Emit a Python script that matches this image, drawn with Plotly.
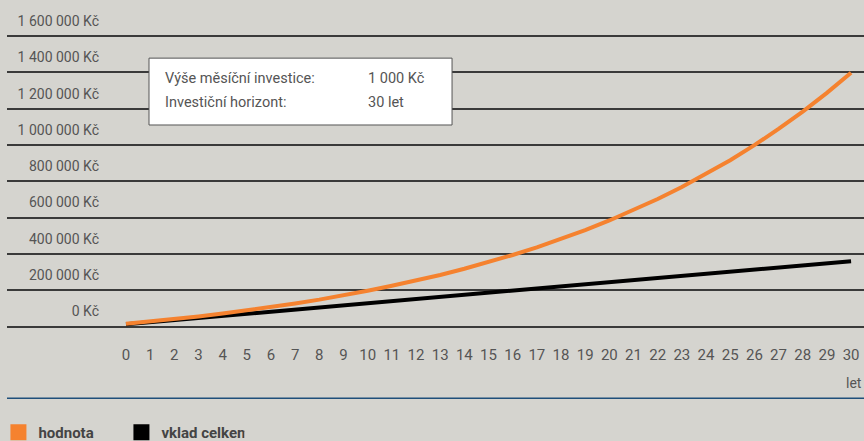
import plotly.graph_objects as go

years = list(range(0, 31))
hodnota = [15000, 27000, 40000, 55000, 71000, 88000, 107000, 127000, 148000, 171000,
           197000, 224000, 253000, 284000, 318000, 355000, 394000, 436000, 482000, 531000,
           584000, 641000, 702000, 768000, 840000, 916000, 999000, 1088000, 1184000, 1287000,
           1398000]
vklad = [12000, 23600, 35200, 46800, 58400, 70000, 81600, 93200, 104800, 116400,
         128000, 139600, 151200, 162800, 174400, 186000, 197600, 209200, 220800, 232400,
         244000, 255600, 267200, 278800, 290400, 302000, 313600, 325200, 336800, 348400,
         360000]
y_ticks = [0, 200000, 400000, 600000, 800000, 1000000, 1200000, 1400000, 1600000]
y_labels = ["0 Kč", "200 000 Kč", "400 000 Kč", "600 000 Kč", "800 000 Kč",
            "1 000 000 Kč", "1 200 000 Kč", "1 400 000 Kč", "1 600 000 Kč"]

BG = "#d5d4cf"
ORANGE = "#f5822f"
GREY_TXT = "#555555"
FONT = "Roboto, sans-serif"

fig = go.Figure()

fig.add_trace(go.Scatter(x=years, y=vklad, mode="lines", name="vklad celkem",
                         line=dict(color="#000000", width=4), showlegend=False))
fig.add_trace(go.Scatter(x=years, y=hodnota, mode="lines", name="hodnota",
                         line=dict(color=ORANGE, width=4), showlegend=False))

# legend swatches
fig.add_trace(go.Scatter(x=[None], y=[None], mode="markers", name="hodnota",
                         marker=dict(symbol="square", size=19, color=ORANGE)))
fig.add_trace(go.Scatter(x=[None], y=[None], mode="markers", name="vklad celkem",
                         marker=dict(symbol="square", size=19, color="#000000")))

# info box
fig.add_shape(type="rect", xref="paper", yref="paper", x0=0.1657, x1=0.5193, y0=0.628, y1=0.827,
              fillcolor="white", line=dict(color="#555555", width=1), layer="above")
info = [("Výše měsíční investice:", "1 000 Kč", 0.765), ("Investiční horizont:", "30 let", 0.696)]
for label, val, yy in info:
    fig.add_annotation(text=label, xref="paper", yref="paper", x=0.182, y=yy,
                       xanchor="left", yanchor="middle", showarrow=False,
                       font=dict(size=14.5, color=GREY_TXT, family=FONT))
    fig.add_annotation(text=val, xref="paper", yref="paper", x=0.419, y=yy,
                       xanchor="left", yanchor="middle", showarrow=False,
                       font=dict(size=14.5, color=GREY_TXT, family=FONT))

fig.add_annotation(text="let", xref="paper", yref="paper", x=1.0, y=-0.14,
                   xanchor="right", yanchor="middle", showarrow=False,
                   font=dict(size=14, color=GREY_TXT, family=FONT))

# blue separator line
fig.add_shape(type="line", xref="paper", yref="paper", x0=0, x1=1, y0=-0.185, y1=-0.185,
              line=dict(color="#1f4f7a", width=1.5))

fig.update_layout(
    width=864, height=441,
    margin=dict(l=7, r=0, t=0, b=105, autoexpand=False),
    paper_bgcolor=BG, plot_bgcolor=BG,
    font=dict(family=FONT, size=14, color=GREY_TXT),
    xaxis=dict(range=[-4.923, 30.535], tickvals=years, ticks="", showgrid=False,
               zeroline=False, showline=False, ticklabelstandoff=8, automargin=False,
               tickfont=dict(size=15, color=GREY_TXT), fixedrange=True),
    yaxis=dict(range=[-52326, 1798362], tickvals=y_ticks, ticktext=y_labels,
               showgrid=True, gridcolor="#3a3a3a", gridwidth=1.5, zeroline=False,
               showline=False, ticks="", automargin=False,
               ticklabelstandoff=-93, ticklabelshift=-15,
               tickfont=dict(size=14, color=GREY_TXT)),
    legend=dict(orientation="h", x=-0.01, y=-0.238, xanchor="left", yanchor="top",
                font=dict(size=15, color="#444444", family=FONT, weight="bold"),
                itemwidth=30, entrywidth=78, bgcolor="rgba(0,0,0,0)"),
)

fig.write_html("out.html", config={"displayModeBar": False},
               post_script="document.body.style.margin='0';")
